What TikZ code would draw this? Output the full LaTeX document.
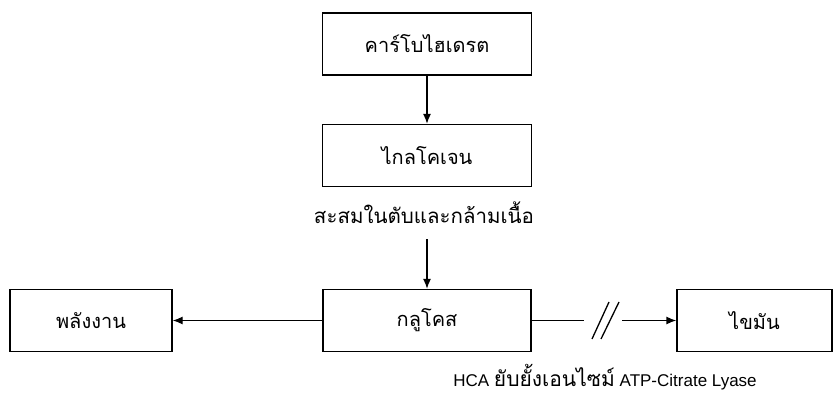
\documentclass[tikz,border=0pt]{standalone}
\usepackage{fontspec}
\setmainfont{Liberation Sans}
\newfontfamily\thaifont[Script=Thai]{Loma}
\usetikzlibrary{arrows.meta}

\begin{document}
\begin{tikzpicture}[x=1pt,y=1pt,
  box/.style={draw,line width=1.3pt,minimum height=62pt,inner sep=0pt,
    font=\thaifont\fontsize{20}{24}\selectfont},
  lbl/.style={inner sep=0pt,text height=12pt,text depth=4pt,
    font=\fontsize{17}{20}\selectfont},
  arr/.style={line width=1.3pt,-{Latex[length=10pt,width=8pt]}}]
\useasboundingbox (0,0) rectangle (834,-398);

\node[box,minimum width=209pt] (carb) at (427,-44) {คาร์โบไฮเดรต};
\node[box,minimum width=209pt] (glyco) at (427,-155.5) {ไกลโคเจน};
\node[lbl,font=\thaifont\fontsize{20.5}{24}\selectfont] (store) at (424,-219) {สะสมในตับและกล้ามเนื้อ};
\node[box,minimum width=208pt] (gluc) at (427,-320.5) {กลูโคส};
\node[box,minimum width=162pt] (energy) at (91,-320.5) {พลังงาน};
\node[box,minimum width=155pt] (fat) at (754.5,-320.5) {ไขมัน};
\node[lbl] (hca) at (605,-382) {HCA {\thaifont\fontsize{21}{24}\selectfont ยับยั้งเอนไซม์} ATP-Citrate Lyase};

\coordinate (top) at (427,-239);
\coordinate (brk1) at (584,-320.5);
\coordinate (brk2) at (622,-320.5);

\draw[arr] (carb) -- (glyco);
\draw[arr] (top) -- (gluc);
\draw[arr] (gluc) -- (energy);
\draw[line width=1.3pt] (gluc) -- (brk1);
\draw[arr] (brk2) -- (fat);

% break marks
\draw[line width=1.3pt] (592,-339) -- (609,-302);
\draw[line width=1.3pt] (601,-339) -- (619,-302);
\end{tikzpicture}
\end{document}
